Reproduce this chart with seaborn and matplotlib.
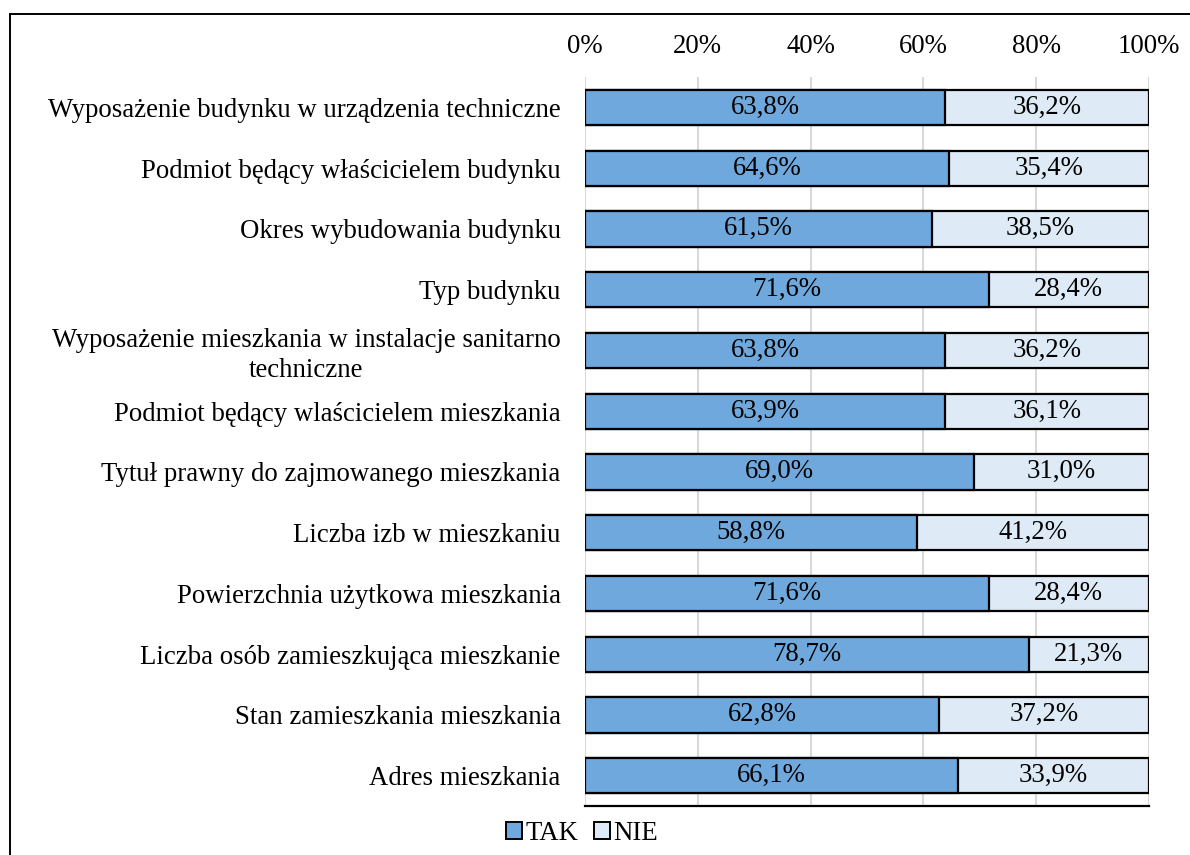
import matplotlib
matplotlib.use('Agg')
import matplotlib.pyplot as plt
import seaborn as sns
import pandas as pd
from matplotlib.patches import Rectangle, Patch

kategorie = [
    'Wyposażenie budynku w urządzenia techniczne',
    'Podmiot będący właścicielem budynku',
    'Okres wybudowania budynku',
    'Typ budynku',
    'Wyposażenie mieszkania w instalacje sanitarno\ntechniczne',
    'Podmiot będący wlaścicielem mieszkania',
    'Tytuł prawny do zajmowanego mieszkania',
    'Liczba izb w mieszkaniu',
    'Powierzchnia użytkowa mieszkania',
    'Liczba osób zamieszkująca mieszkanie',
    'Stan zamieszkania mieszkania',
    'Adres mieszkania',
]
tak = [63.8, 64.6, 61.5, 71.6, 63.8, 63.9, 69.0, 58.8, 71.6, 78.7, 62.8, 66.1]
nie = [36.2, 35.4, 38.5, 28.4, 36.2, 36.1, 31.0, 41.2, 28.4, 21.3, 37.2, 33.9]
x_ticks = [0, 20, 40, 60, 80, 100]

kolor_tak = '#6FA8DC'
kolor_nie = '#DEEBF7'

sns.set_style('white')
plt.rcParams['font.family'] = ['Liberation Serif', 'DejaVu Serif']
plt.rcParams['text.color'] = 'black'
plt.rcParams['xtick.color'] = 'black'
plt.rcParams['ytick.color'] = 'black'

df = pd.DataFrame({'kategoria': kategorie, 'TAK': tak, 'NIE': nie})
df['suma'] = df['TAK'] + df['NIE']

fig = plt.figure(figsize=(11.9, 8.55), dpi=100)
ax = fig.add_axes([0.4916, 0.0573, 0.4739, 0.8526])

# tlo: cały pasek w kolorze NIE, na nim TAK
sns.barplot(data=df, y='kategoria', x='suma', color=kolor_nie, orient='h',
            width=0.58, edgecolor='black', linewidth=1.6, ax=ax, saturation=1)
sns.barplot(data=df, y='kategoria', x='TAK', color=kolor_tak, orient='h',
            width=0.58, edgecolor='black', linewidth=1.6, ax=ax, saturation=1)

fs = 19.3
ax.bar_label(ax.containers[1], labels=[f'{v:.1f}%'.replace('.', ',') for v in tak],
             label_type='center', fontsize=fs, color='black')
for i, (t, n) in enumerate(zip(tak, nie)):
    ax.text(t + n / 2, i, f'{n:.1f}%'.replace('.', ','), ha='center', va='center',
            fontsize=fs, color='black')

ax.set_xlim(0, 100)
ax.set_ylim(11.5, -0.5)
ax.set_xticks(x_ticks)
ax.set_xticklabels([f'{v}%' for v in x_ticks], fontsize=fs)
ax.xaxis.tick_top()
ax.tick_params(axis='x', length=0, pad=13)
ax.tick_params(axis='y', length=0, pad=17.5, labelsize=fs)
for lab in ax.get_yticklabels():
    lab.set_multialignment('center')
    lab.set_linespacing(1.25)
ax.set_xlabel('')
ax.set_ylabel('')
ax.grid(axis='x', color='#D9D9D9', linewidth=1.5)
ax.set_axisbelow(True)
for s in ['top', 'left', 'right']:
    ax.spines[s].set_visible(False)
ax.spines['bottom'].set_color('black')
ax.spines['bottom'].set_linewidth(1.6)

uchwyty = [Patch(facecolor=kolor_tak, edgecolor='black', linewidth=1.4, label='TAK'),
           Patch(facecolor=kolor_nie, edgecolor='black', linewidth=1.4, label='NIE')]
fig.legend(handles=uchwyty, loc='center', bbox_to_anchor=(582 / 1190, 1 - 833 / 855),
           ncol=2, frameon=False, fontsize=fs, handlelength=0.6, handleheight=0.6,
           handletextpad=0.12, columnspacing=0.6, borderaxespad=0, borderpad=0)

# ramka wykresu
fig.patches.append(Rectangle((9.5 / 1190, -0.1), 1.2, 1.1 - 14.5 / 855, transform=fig.transFigure,
                             fill=False, edgecolor='black', linewidth=1.4))

plt.savefig('out.png', dpi=100)
plt.close()
